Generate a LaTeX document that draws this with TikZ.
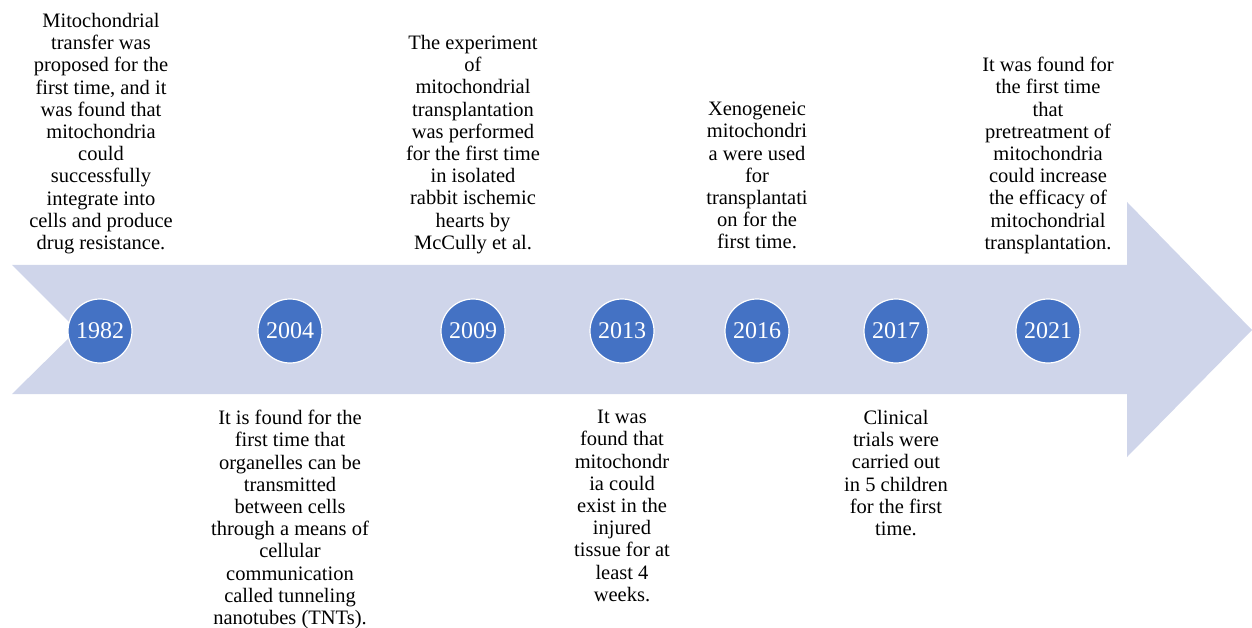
\documentclass[tikz,border=0pt]{standalone}
\usepackage{fontspec}
\setmainfont{Liberation Serif}
\definecolor{arrowfill}{HTML}{CFD5EA}
\definecolor{circ}{HTML}{4472C4}
\tikzset{
  txt/.style={font=\fontsize{20.5}{22.2}\selectfont, align=center, inner sep=0pt, anchor=north},
  yr/.style={circle, fill=circ, draw=white, line width=1.2pt, minimum size=64pt, inner sep=0pt, text=white, font=\fontsize{24}{24}\selectfont}
}
\begin{document}
\begin{tikzpicture}[x=1pt,y=-1pt]
\useasboundingbox (0,0) rectangle (1252,628);
\fill[arrowfill] (12,265) -- (1127,265) -- (1127,202) -- (1252,330) -- (1127,457) -- (1127,394) -- (12,394) -- (77,330) -- cycle;

\node[yr] (y1982) at (100,331) {1982};
\node[yr] (y2004) at (290,331) {2004};
\node[yr] (y2009) at (473,331) {2009};
\node[yr] (y2013) at (622,331) {2013};
\node[yr] (y2016) at (757,331) {2016};
\node[yr] (y2017) at (896,331) {2017};
\node[yr] (y2021) at (1048,331) {2021};

\node[txt] (t1982) at (101,13) {Mitochondrial\\transfer was\\proposed for the\\first time, and it\\was found that\\mitochondria\\could\\successfully\\integrate into\\cells and produce\\drug resistance.};
\node[txt] (t2009) at (473,35) {The experiment\\of\\mitochondrial\\transplantation\\was performed\\for the first time\\in isolated\\rabbit ischemic\\hearts by\\McCully et al.};
\node[txt] (t2016) at (757,102) {Xenogeneic\\mitochondri\\a were used\\for\\transplantati\\on for the\\first time.};
\node[txt] (t2021) at (1048,57) {It was found for\\the first time\\that\\pretreatment of\\mitochondria\\could increase\\the efficacy of\\mitochondrial\\transplantation.};

\node[txt] (t2004) at (290,410) {It is found for the\\first time that\\organelles can be\\transmitted\\between cells\\through a means of\\cellular\\communication\\called tunneling\\nanotubes (TNTs).};
\node[txt] (t2013) at (622,410) {It was\\found that\\mitochondr\\ia could\\exist in the\\injured\\tissue for at\\least 4\\weeks.};
\node[txt] (t2017) at (896,410) {Clinical\\trials were\\carried out\\in 5 children\\for the first\\time.};
\end{tikzpicture}
\end{document}
